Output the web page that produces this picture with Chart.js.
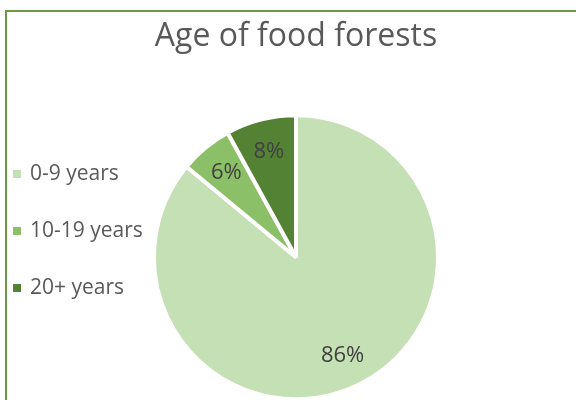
<!DOCTYPE html>
<html>
<head>
<meta charset="utf-8">
<script src="https://cdn.jsdelivr.net/npm/chart.js@4/dist/chart.umd.min.js"></script>
<style>
  html, body { margin: 0; padding: 0; background: #fff; overflow: hidden; }
  #wrap { position: relative; width: 576px; height: 400px; }
  #frame {
    position: absolute; left: 5px; top: 10px; width: 620px; height: 440px;
    border: 2px solid #6A9A45; box-sizing: border-box;
  }
  canvas { position: absolute; left: 0; top: 0; }
</style>
</head>
<body>
<div id="wrap">
  <div id="frame"></div>
  <canvas id="chart" width="576" height="400"></canvas>
</div>
<script>
const chartTitle = 'Age of food forests';
const categories = ['0-9 years', '10-19 years', '20+ years'];
const shares = [86, 6, 8];
const sliceColors = ['#C5E0B4', '#8CC068', '#548235'];

// percent labels inside each slice
const sliceLabels = {
  id: 'sliceLabels',
  afterDatasetsDraw(chart) {
    const ctx = chart.ctx;
    const meta = chart.getDatasetMeta(0);
    ctx.save();
    ctx.font = '22px "Open Sans"';
    ctx.fillStyle = '#404040';
    ctx.textAlign = 'center';
    ctx.textBaseline = 'middle';
    meta.data.forEach((arc, i) => {
      const p = arc.getProps(['x', 'y', 'startAngle', 'endAngle', 'outerRadius'], true);
      const mid = (p.startAngle + p.endAngle) / 2;
      const r = p.outerRadius * 0.77;
      ctx.fillText(shares[i] + '%', p.x + Math.cos(mid) * r, p.y + Math.sin(mid) * r);
    });
    ctx.restore();
  }
};

// legend down the left edge, spaced like the Excel one
const sideLegend = {
  id: 'sideLegend',
  afterDraw(chart) {
    const ctx = chart.ctx;
    ctx.save();
    ctx.font = '21px "Open Sans"';
    ctx.textBaseline = 'middle';
    categories.forEach((name, i) => {
      const y = 174 + i * 57;
      ctx.fillStyle = sliceColors[i];
      ctx.fillRect(13, y - 4, 8, 8);
      ctx.fillStyle = '#595959';
      ctx.fillText(name, 30, y);
    });
    ctx.restore();
  }
};

const chart = new Chart(document.getElementById('chart'), {
  type: 'pie',
  data: {
    labels: categories,
    datasets: [{
      data: shares,
      backgroundColor: sliceColors,
      borderColor: '#ffffff',
      borderWidth: 4,
      radius: 142
    }]
  },
  options: {
    responsive: false,
    animation: false,
    devicePixelRatio: 1,
    layout: { padding: { left: 16, right: 0, top: 0, bottom: 13 } },
    plugins: {
      title: {
        display: true,
        text: chartTitle,
        color: '#595959',
        font: { family: 'Open Sans', size: 32, weight: 'normal' },
        padding: { top: 18, bottom: 71 }
      },
      legend: { display: false },
      tooltip: { enabled: false }
    }
  },
  plugins: [sliceLabels, sideLegend]
});
</script>
</body>
</html>
